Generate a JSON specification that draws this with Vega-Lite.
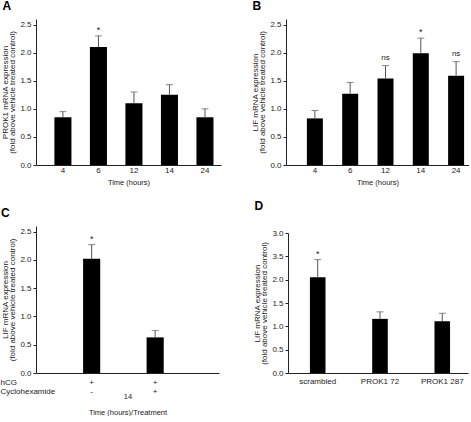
{
  "$schema": "https://vega.github.io/schema/vega-lite/v6.json",
  "padding": {"left": 0, "top": 0, "right": 0, "bottom": 0},
  "spacing": 14,
  "datasets": {
    "A": [
      {"time": "4", "value": 0.85, "upper": 0.95},
      {"time": "6", "value": 2.1, "upper": 2.3, "sig": "*"},
      {"time": "12", "value": 1.1, "upper": 1.3},
      {"time": "14", "value": 1.25, "upper": 1.43},
      {"time": "24", "value": 0.85, "upper": 1.0}
    ],
    "B": [
      {"time": "4", "value": 0.83, "upper": 0.97},
      {"time": "6", "value": 1.27, "upper": 1.47},
      {"time": "12", "value": 1.54, "upper": 1.77, "sig": "ns"},
      {"time": "14", "value": 1.99, "upper": 2.26, "sig": "*"},
      {"time": "24", "value": 1.59, "upper": 1.84, "sig": "ns"}
    ],
    "C": [
      {"treatment": "hCG+ / Cyclohexamide-", "value": 2.02, "upper": 2.27, "sig": "*"},
      {"treatment": "hCG+ / Cyclohexamide+", "value": 0.63, "upper": 0.75}
    ],
    "D": [
      {"sirna": "scrambled", "value": 2.05, "upper": 2.43, "sig": "*"},
      {"sirna": "PROK1 72", "value": 1.16, "upper": 1.31},
      {"sirna": "PROK1 287", "value": 1.11, "upper": 1.28}
    ]
  },
  "vconcat": [
    {
      "spacing": 30,
      "hconcat": [
        {
          "width": 185, "height": 146,
          "title": {"text": "A", "anchor": "start", "frame": "bounds", "offset": 6, "dx": 1},
          "data": {"name": "A"},
          "layer": [
            {
              "mark": {"type": "bar", "color": "#000"},
              "encoding": {
                "x": {"field": "time", "type": "ordinal", "sort": null,
                      "scale": {"paddingInner": 0.52, "paddingOuter": 0.365, "align": 0.71},
                      "axis": {"title": "Time (hours)", "labelPadding": 1, "titlePadding": 4, "titleFontSize": 7.5}},
                "y": {"field": "value", "type": "quantitative", "scale": {"domain": [0, 2.5]},
                      "axis": {"values": [0, 0.5, 1, 1.5, 2, 2.5], "format": ".1f",
                               "title": ["PROK1 mRNA expression", "(fold above vehicle treated control)"]}}
              }
            },
            {
              "mark": {"type": "rule", "color": "#555"},
              "encoding": {
                "x": {"field": "time", "type": "ordinal", "sort": null,
                      "axis": {"title": "Time (hours)", "labelPadding": 1, "titlePadding": 4, "titleFontSize": 7.5}},
                "y": {"field": "value", "type": "quantitative",
                      "axis": {"values": [0, 0.5, 1, 1.5, 2, 2.5], "format": ".1f",
                               "title": ["PROK1 mRNA expression", "(fold above vehicle treated control)"]}},
                "y2": {"field": "upper"}}
            },
            {
              "mark": {"type": "tick", "color": "#555", "thickness": 1, "size": 7},
              "encoding": {
                "x": {"field": "time", "type": "ordinal", "sort": null,
                      "axis": {"title": "Time (hours)", "labelPadding": 1, "titlePadding": 4, "titleFontSize": 7.5}},
                "y": {"field": "upper", "type": "quantitative",
                      "axis": {"values": [0, 0.5, 1, 1.5, 2, 2.5], "format": ".1f",
                               "title": ["PROK1 mRNA expression", "(fold above vehicle treated control)"]}}}
            },
            {
              "transform": [{"filter": "datum.sig == '*'"}],
              "mark": {"type": "text", "dy": -6, "fontSize": 9, "font": "Liberation Sans", "color": "#222"},
              "encoding": {
                "x": {"field": "time", "type": "ordinal", "sort": null,
                      "axis": {"title": "Time (hours)", "labelPadding": 1, "titlePadding": 4, "titleFontSize": 7.5}},
                "y": {"field": "upper", "type": "quantitative",
                      "axis": {"values": [0, 0.5, 1, 1.5, 2, 2.5], "format": ".1f",
                               "title": ["PROK1 mRNA expression", "(fold above vehicle treated control)"]}},
                "text": {"field": "sig"}}
            }
          ]
        },
        {
          "width": 183, "height": 146,
          "title": {"text": "B", "anchor": "start", "frame": "bounds", "offset": 6, "dx": 1},
          "data": {"name": "B"},
          "layer": [
            {
              "mark": {"type": "bar", "color": "#000"},
              "encoding": {
                "x": {"field": "time", "type": "ordinal", "sort": null,
                      "scale": {"paddingInner": 0.547, "paddingOuter": 0.365, "align": 0.81},
                      "axis": {"title": "Time (hours)", "labelPadding": 1, "titlePadding": 4, "titleFontSize": 7.5}},
                "y": {"field": "value", "type": "quantitative", "scale": {"domain": [0, 2.5]},
                      "axis": {"values": [0, 0.5, 1, 1.5, 2, 2.5], "format": ".1f",
                               "title": ["LIF mRNA expression", "(fold above vehicle treated control)"]}}
              }
            },
            {
              "mark": {"type": "rule", "color": "#555"},
              "encoding": {
                "x": {"field": "time", "type": "ordinal", "sort": null,
                      "axis": {"title": "Time (hours)", "labelPadding": 1, "titlePadding": 4, "titleFontSize": 7.5}},
                "y": {"field": "value", "type": "quantitative",
                      "axis": {"values": [0, 0.5, 1, 1.5, 2, 2.5], "format": ".1f",
                               "title": ["LIF mRNA expression", "(fold above vehicle treated control)"]}},
                "y2": {"field": "upper"}}
            },
            {
              "mark": {"type": "tick", "color": "#555", "thickness": 1, "size": 7},
              "encoding": {
                "x": {"field": "time", "type": "ordinal", "sort": null,
                      "axis": {"title": "Time (hours)", "labelPadding": 1, "titlePadding": 4, "titleFontSize": 7.5}},
                "y": {"field": "upper", "type": "quantitative",
                      "axis": {"values": [0, 0.5, 1, 1.5, 2, 2.5], "format": ".1f",
                               "title": ["LIF mRNA expression", "(fold above vehicle treated control)"]}}}
            },
            {
              "transform": [{"filter": "datum.sig == '*'"}],
              "mark": {"type": "text", "dy": -6, "fontSize": 9, "font": "Liberation Sans", "color": "#222"},
              "encoding": {
                "x": {"field": "time", "type": "ordinal", "sort": null,
                      "axis": {"title": "Time (hours)", "labelPadding": 1, "titlePadding": 4, "titleFontSize": 7.5}},
                "y": {"field": "upper", "type": "quantitative",
                      "axis": {"values": [0, 0.5, 1, 1.5, 2, 2.5], "format": ".1f",
                               "title": ["LIF mRNA expression", "(fold above vehicle treated control)"]}},
                "text": {"field": "sig"}}
            },
            {
              "transform": [{"filter": "datum.sig == 'ns'"}],
              "mark": {"type": "text", "dy": -8, "fontSize": 8, "font": "Liberation Sans", "color": "#222"},
              "encoding": {
                "x": {"field": "time", "type": "ordinal", "sort": null,
                      "axis": {"title": "Time (hours)", "labelPadding": 1, "titlePadding": 4, "titleFontSize": 7.5}},
                "y": {"field": "upper", "type": "quantitative",
                      "axis": {"values": [0, 0.5, 1, 1.5, 2, 2.5], "format": ".1f",
                               "title": ["LIF mRNA expression", "(fold above vehicle treated control)"]}},
                "text": {"field": "sig"}}
            }
          ]
        }
      ]
    },
    {
      "spacing": 34,
      "hconcat": [
        {
          "width": 183, "height": 147,
          "title": {"text": "C", "anchor": "start", "frame": "bounds", "offset": 6, "dx": 1},
          "data": {"name": "C"},
          "resolve": {"axis": {"x": "independent"}},
          "layer": [
            {
              "mark": {"type": "bar", "color": "#000"},
              "encoding": {
                "x": {"field": "treatment", "type": "ordinal", "sort": null,
                      "scale": {"paddingInner": 0.73, "paddingOuter": 0.806, "align": 0.46},
                      "axis": {"orient": "bottom", "title": ["14", "Time (hours)/Treatment"], "titleLineHeight": 16,
                               "titleFontSize": 7.5, "titleY": 19, "titleBaseline": "top",
                               "labelExpr": "datum.index == 0 ? ['+', '-'] : ['+', '+']",
                               "labelLineHeight": 9, "labelPadding": 5, "labelBaseline": "top"}},
                "y": {"field": "value", "type": "quantitative", "scale": {"domain": [0, 2.5]},
                      "axis": {"values": [0, 0.5, 1, 1.5, 2, 2.5], "format": ".1f",
                               "title": ["LIF mRNA expression", "(fold above vehicle treated control)"]}}
              }
            },
            {
              "mark": {"type": "rule", "color": "#555"},
              "encoding": {
                "x": {"field": "treatment", "type": "ordinal", "sort": null,
                      "axis": {"orient": "bottom", "labels": false, "domain": false, "ticks": false,
                               "title": ["hCG", "Cyclohexamide"], "titleX": -36, "titleY": 5,
                               "titleAlign": "left", "titleBaseline": "top", "titleAnchor": null,
                               "titleLineHeight": 9, "titleFontSize": 8}},
                "y": {"field": "value", "type": "quantitative",
                      "axis": {"values": [0, 0.5, 1, 1.5, 2, 2.5], "format": ".1f",
                               "title": ["LIF mRNA expression", "(fold above vehicle treated control)"]}},
                "y2": {"field": "upper"}}
            },
            {
              "mark": {"type": "tick", "color": "#555", "thickness": 1, "size": 7},
              "encoding": {
                "x": {"field": "treatment", "type": "ordinal", "sort": null, "axis": null},
                "y": {"field": "upper", "type": "quantitative",
                      "axis": {"values": [0, 0.5, 1, 1.5, 2, 2.5], "format": ".1f",
                               "title": ["LIF mRNA expression", "(fold above vehicle treated control)"]}}}
            },
            {
              "transform": [{"filter": "datum.sig == '*'"}],
              "mark": {"type": "text", "dy": -6, "fontSize": 9, "font": "Liberation Sans", "color": "#222"},
              "encoding": {
                "x": {"field": "treatment", "type": "ordinal", "sort": null, "axis": null},
                "y": {"field": "upper", "type": "quantitative",
                      "axis": {"values": [0, 0.5, 1, 1.5, 2, 2.5], "format": ".1f",
                               "title": ["LIF mRNA expression", "(fold above vehicle treated control)"]}},
                "text": {"field": "sig"}}
            }
          ]
        },
        {
          "width": 180, "height": 147,
          "title": {"text": "D", "anchor": "start", "frame": "bounds", "offset": 13, "dx": 1},
          "data": {"name": "D"},
          "layer": [
            {
              "mark": {"type": "bar", "color": "#000"},
              "encoding": {
                "x": {"field": "sirna", "type": "ordinal", "sort": null,
                      "scale": {"paddingInner": 0.75, "paddingOuter": 0.32, "align": 0.55},
                      "axis": {"title": null, "labelPadding": 4}},
                "y": {"field": "value", "type": "quantitative", "scale": {"domain": [0, 3], "range": [147, 7]},
                      "axis": {"values": [0, 0.5, 1, 1.5, 2, 2.5, 3],
                               "labelExpr": "datum.value == 2.5 ? '3.5' : format(datum.value, '.1f')",
                               "title": ["LIF mRNA expression", "(fold above vehicle treated control)"]}}
              }
            },
            {
              "mark": {"type": "rule", "color": "#555"},
              "encoding": {
                "x": {"field": "sirna", "type": "ordinal", "sort": null, "axis": {"title": null, "labelPadding": 4}},
                "y": {"field": "value", "type": "quantitative",
                      "axis": {"values": [0, 0.5, 1, 1.5, 2, 2.5, 3],
                               "labelExpr": "datum.value == 2.5 ? '3.5' : format(datum.value, '.1f')",
                               "title": ["LIF mRNA expression", "(fold above vehicle treated control)"]}},
                "y2": {"field": "upper"}}
            },
            {
              "mark": {"type": "tick", "color": "#555", "thickness": 1, "size": 7},
              "encoding": {
                "x": {"field": "sirna", "type": "ordinal", "sort": null, "axis": {"title": null, "labelPadding": 4}},
                "y": {"field": "upper", "type": "quantitative",
                      "axis": {"values": [0, 0.5, 1, 1.5, 2, 2.5, 3],
                               "labelExpr": "datum.value == 2.5 ? '3.5' : format(datum.value, '.1f')",
                               "title": ["LIF mRNA expression", "(fold above vehicle treated control)"]}}}
            },
            {
              "transform": [{"filter": "datum.sig == '*'"}],
              "mark": {"type": "text", "dy": -6, "fontSize": 9, "font": "Liberation Sans", "color": "#222"},
              "encoding": {
                "x": {"field": "sirna", "type": "ordinal", "sort": null, "axis": {"title": null, "labelPadding": 4}},
                "y": {"field": "upper", "type": "quantitative",
                      "axis": {"values": [0, 0.5, 1, 1.5, 2, 2.5, 3],
                               "labelExpr": "datum.value == 2.5 ? '3.5' : format(datum.value, '.1f')",
                               "title": ["LIF mRNA expression", "(fold above vehicle treated control)"]}},
                "text": {"field": "sig"}}
            }
          ]
        }
      ]
    }
  ],
  "config": {
    "view": {"stroke": null},
    "font": "Liberation Sans",
    "title": {"font": "Liberation Sans", "fontSize": 12, "fontWeight": "bold", "color": "#000"},
    "axis": {
      "grid": false,
      "labelFont": "Liberation Sans", "titleFont": "Liberation Sans",
      "labelFontSize": 8, "titleFontSize": 8, "titleFontWeight": "normal",
      "labelColor": "#222", "titleColor": "#222",
      "domainColor": "#222", "tickColor": "#222", "labelOverlap": false
    },
    "axisX": {"ticks": false, "labelAngle": 0},
    "axisY": {"tickSize": 3, "labelPadding": 2, "titlePadding": 3, "titleLineHeight": 7.5}
  }
}
